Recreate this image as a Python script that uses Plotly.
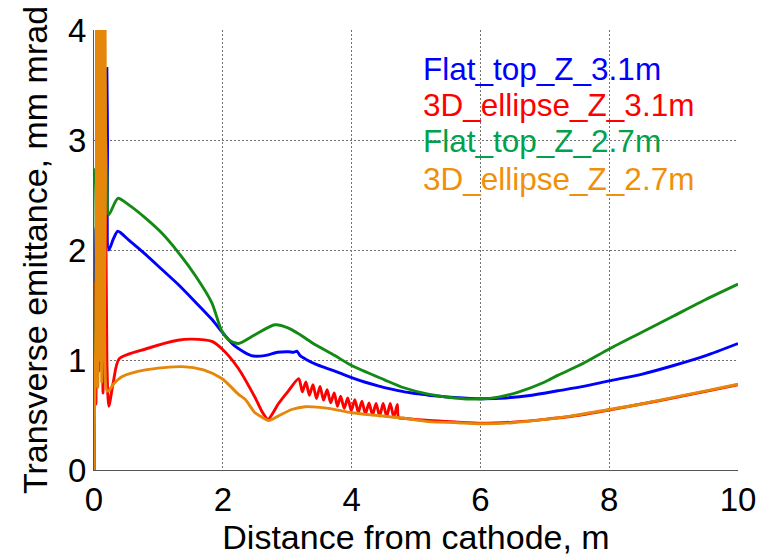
import plotly.graph_objects as go

# Transverse emittance along the beamline for two laser pulse shapes at two solenoid positions
names = ["Flat_top_Z_3.1m", "3D_ellipse_Z_3.1m", "Flat_top_Z_2.7m", "3D_ellipse_Z_2.7m"]
line_colors = ["#0000FF", "#FF0000", "#138A13", "#E5870A"]
text_colors = ["#0000FF", "#FF0000", "#00A24C", "#F0900A"]

# Flat-top, Z = 3.1 m
x_flat31 = [0, 0.015, 0.03, 0.05, 0.08, 0.11, 0.14, 0.17, 0.2, 0.21, 0.23, 0.3, 0.37, 0.54,
            0.8, 1.06, 1.32, 1.57, 1.83, 1.98, 2.18, 2.44, 2.65, 2.85, 3.02, 3.1, 3.15, 3.2,
            3.28, 3.45, 3.64, 3.82, 4.0, 4.2, 4.41, 4.62, 4.82, 5.0, 5.19, 5.6, 6.0, 6.4,
            6.8, 7.2, 7.6, 8.0, 8.5, 9.0, 9.5, 10.0]
y_flat31 = [0.0, 1.4, 2.2, 1.5, 5.0, 1.6, 5.0, 2.2, 3.65, 3.0, 2.0, 2.1, 2.17, 2.09,
            1.96, 1.82, 1.68, 1.53, 1.37, 1.26, 1.13, 1.04, 1.04, 1.07, 1.075, 1.07, 1.08, 1.04,
            1.01, 0.96, 0.92, 0.88, 0.84, 0.8, 0.765, 0.735, 0.71, 0.695, 0.68, 0.66, 0.648, 0.655,
            0.68, 0.72, 0.76, 0.81, 0.87, 0.95, 1.04, 1.15]

# 3D ellipsoid, Z = 3.1 m (includes the ripple between 3.2 m and 4.7 m)
x_ell31 = [0, 0.015, 0.03, 0.05, 0.08, 0.11, 0.14, 0.17, 0.2, 0.23, 0.3, 0.39, 0.8, 1.3,
           1.52, 1.83, 1.99, 2.24, 2.5, 2.62, 2.7, 2.78, 2.86, 3.02,
           3.18, 3.235, 3.29, 3.345, 3.40, 3.455, 3.51, 3.565, 3.62, 3.675, 3.73, 3.78,
           3.83, 3.885, 3.94, 3.995, 4.05, 4.105, 4.16, 4.215, 4.27, 4.325, 4.38, 4.435,
           4.49, 4.545, 4.60, 4.655, 4.71, 4.73,
           4.8, 5.2, 5.65, 6.0, 6.5, 7.0, 7.5, 8.0, 8.5, 9.0, 9.5, 10.0]
y_ell31 = [0.0, 1.7, 0.6, 5.0, 0.9, 5.0, 0.7, 3.5, 1.0, 0.58, 0.8, 1.01, 1.1, 1.18,
           1.19, 1.17, 1.1, 0.925, 0.66, 0.52, 0.46, 0.52, 0.6, 0.72,
           0.83, 0.71, 0.80, 0.68, 0.775, 0.65, 0.76, 0.635, 0.73, 0.61, 0.70, 0.58,
           0.67, 0.56, 0.655, 0.54, 0.64, 0.525, 0.625, 0.51, 0.61, 0.5, 0.605, 0.49,
           0.605, 0.485, 0.605, 0.48, 0.595, 0.475,
           0.47, 0.45, 0.435, 0.425, 0.435, 0.46, 0.495, 0.545, 0.6, 0.655, 0.715, 0.775]

# Flat-top, Z = 2.7 m
x_flat27 = [0, 0.015, 0.03, 0.05, 0.08, 0.11, 0.14, 0.17, 0.2, 0.23, 0.37, 0.54, 0.8, 1.06,
            1.32, 1.57, 1.83, 1.98, 2.1, 2.24, 2.5, 2.81, 3.02, 3.2, 3.38, 3.74, 4.0, 4.51,
            4.8, 5.19, 5.6, 6.0, 6.3, 6.6, 7.0, 7.2, 7.6, 8.0, 8.5, 9.0, 9.5, 10.0]
y_flat27 = [0.5, 2.73, 2.73, 1.8, 5.0, 1.9, 5.0, 3.3, 2.7, 2.32, 2.47, 2.41, 2.29, 2.15,
            1.97, 1.77, 1.52, 1.27, 1.18, 1.15, 1.23, 1.32, 1.29, 1.23, 1.16, 1.04, 0.95, 0.82,
            0.75, 0.69, 0.655, 0.645, 0.665, 0.71, 0.8, 0.86, 0.97, 1.1, 1.25, 1.4, 1.55, 1.69]

# 3D ellipsoid, Z = 2.7 m
x_ell27 = [0, 0.01, 0.03, 0.045, 0.06, 0.075, 0.09, 0.105, 0.12, 0.135, 0.15, 0.165, 0.18,
           0.2, 0.23, 0.3, 0.44, 0.8, 1.37, 1.7, 1.99, 2.24, 2.35, 2.5, 2.58, 2.71, 2.86,
           3.07, 3.28, 3.64, 4.0, 4.41, 4.82, 5.19, 5.65, 6.0, 6.5, 7.0, 7.4, 8.0, 8.5,
           9.0, 9.5, 10.0]
y_ell27 = [0.0, 0.6, 1.3, 5.0, 0.75, 5.0, 1.0, 5.0, 0.8, 5.0, 1.1, 5.0, 2.9,
           0.72, 0.72, 0.78, 0.85, 0.91, 0.94, 0.91, 0.83, 0.69, 0.64, 0.52, 0.49, 0.45, 0.49,
           0.55, 0.575, 0.56, 0.52, 0.495, 0.47, 0.44, 0.43, 0.42, 0.43, 0.46, 0.49, 0.55, 0.6,
           0.66, 0.72, 0.78]

series_x = [x_flat31, x_ell31, x_flat27, x_ell27]
series_y = [y_flat31, y_ell31, y_flat27, y_ell27]

x_ticks = [0, 2, 4, 6, 8, 10]
y_ticks = [0, 1, 2, 3, 4]

FONT = "Liberation Sans, Arial, Helvetica, sans-serif"

fig = go.Figure()
for name, xs, ys, col in zip(names, series_x, series_y, line_colors):
    fig.add_trace(go.Scatter(x=xs, y=ys, mode="lines", name=name,
                             line=dict(color=col, width=2.9, shape="spline", smoothing=0.7),
                             showlegend=False))

# In-plot legend written as coloured text
legend_y = [3.65, 3.32, 2.99, 2.65]
for name, ly, col in zip(names, legend_y, text_colors):
    fig.add_annotation(x=5.08, y=ly, xref="x", yref="y", text=name, showarrow=False,
                       xanchor="left", yanchor="middle",
                       font=dict(family=FONT, size=31.5, color=col))

grid = dict(showgrid=True, gridcolor="#707070", gridwidth=1, griddash="2px,2px")

fig.update_xaxes(range=[0, 10], tickvals=x_ticks, ticktext=[str(v) for v in x_ticks],
                 showline=True, linecolor="#555555", linewidth=1.2, zeroline=False,
                 ticks="", tickfont=dict(family=FONT, size=33, color="black"),
                 title=dict(text="Distance from cathode, m", standoff=4,
                            font=dict(family=FONT, size=34, color="black")),
                 **grid)
fig.update_yaxes(range=[0, 4], tickvals=y_ticks, ticktext=[str(v) for v in y_ticks],
                 showline=True, linecolor="#555555", linewidth=1.2, zeroline=False,
                 ticks="", tickfont=dict(family=FONT, size=33, color="black"),
                 title=dict(text="Transverse emittance, mm mrad", standoff=10,
                            font=dict(family=FONT, size=34, color="black")),
                 **grid)

fig.update_layout(width=768, height=558, margin=dict(l=94, r=27, t=27, b=73),
                  paper_bgcolor="white", plot_bgcolor="white", showlegend=False)

fig.write_html("out.html")
